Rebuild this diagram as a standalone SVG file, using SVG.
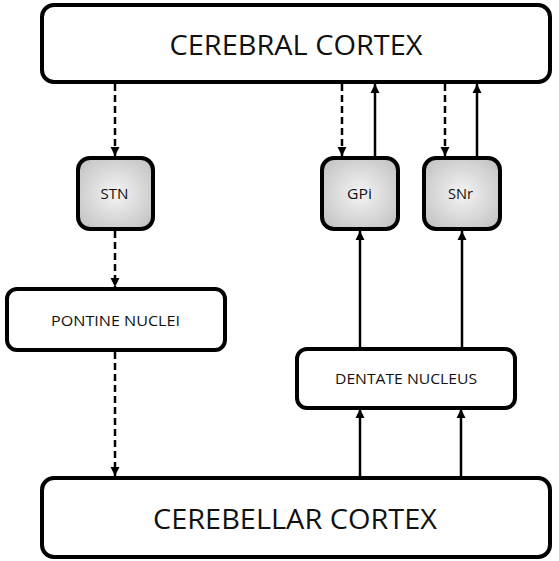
<svg xmlns="http://www.w3.org/2000/svg" width="559" height="561" viewBox="0 0 559 561">
<style>
.box{fill:#fff;stroke:#000;stroke-width:4}
.gbox{fill:url(#g);stroke:#000;stroke-width:4}
.lbl{font-family:"Open Sans","Liberation Sans",sans-serif;fill:#111;text-anchor:middle}
.big{font-size:28px}
.sm{font-size:15px}
.ln{stroke:#000;stroke-width:2.5;fill:none;marker-end:url(#ah)}
.dash{stroke-dasharray:7 4}
</style>
<defs>
<radialGradient id="g" cx="0.5" cy="0.5" r="0.62">
<stop offset="0" stop-color="#f4f4f4"/>
<stop offset="1" stop-color="#c4c4c4"/>
</radialGradient>
<marker id="ah" markerUnits="userSpaceOnUse" markerWidth="10" markerHeight="10" viewBox="0 0 10 10" refX="9" refY="5" orient="auto">
<path d="M0,0.5 L9,5 L0,9.5 z" fill="#000"/>
</marker>
</defs>
<g id="connectors">
<line class="ln dash" x1="115" y1="84" x2="115" y2="156"/>
<line class="ln dash" x1="115" y1="231" x2="115" y2="287"/>
<line class="ln dash" x1="115" y1="352" x2="115" y2="476"/>
<line class="ln dash" x1="342" y1="84" x2="342" y2="156"/>
<line class="ln" x1="375" y1="156" x2="375" y2="84"/>
<line class="ln dash" x1="445" y1="84" x2="445" y2="156"/>
<line class="ln" x1="477" y1="156" x2="477" y2="84"/>
<line class="ln" x1="360" y1="347" x2="360" y2="231"/>
<line class="ln" x1="462" y1="347" x2="462" y2="231"/>
<line class="ln" x1="360" y1="476" x2="360" y2="409"/>
<line class="ln" x1="461" y1="476" x2="461" y2="409"/>
</g>
<g id="cerebral-cortex">
<rect class="box" x="42" y="5" width="508" height="77" rx="12"/>
<text class="lbl big" x="296" y="55" textLength="253" lengthAdjust="spacingAndGlyphs">CEREBRAL CORTEX</text>
</g>
<g id="stn">
<rect class="gbox" x="78" y="158" width="75" height="71" rx="12"/>
<text class="lbl sm" x="114.5" y="199" textLength="28" lengthAdjust="spacingAndGlyphs">STN</text>
</g>
<g id="gpi">
<rect class="gbox" x="322" y="158" width="76" height="71" rx="12"/>
<text class="lbl sm" x="359.5" y="199" textLength="25" lengthAdjust="spacingAndGlyphs">GPi</text>
</g>
<g id="snr">
<rect class="gbox" x="424" y="158" width="76" height="71" rx="12"/>
<text class="lbl sm" x="460.5" y="199" textLength="25" lengthAdjust="spacingAndGlyphs">SNr</text>
</g>
<g id="pontine-nuclei">
<rect class="box" x="7" y="289" width="218" height="61" rx="10"/>
<text class="lbl sm" x="115.5" y="326" textLength="129" lengthAdjust="spacingAndGlyphs">PONTINE NUCLEI</text>
</g>
<g id="dentate-nucleus">
<rect class="box" x="297" y="349" width="218" height="59" rx="10"/>
<text class="lbl sm" x="406" y="384" textLength="142" lengthAdjust="spacingAndGlyphs">DENTATE NUCLEUS</text>
</g>
<g id="cerebellar-cortex">
<rect class="box" x="42" y="478" width="508" height="79" rx="12"/>
<text class="lbl big" x="295" y="529" textLength="284" lengthAdjust="spacingAndGlyphs">CEREBELLAR CORTEX</text>
</g>
</svg>
